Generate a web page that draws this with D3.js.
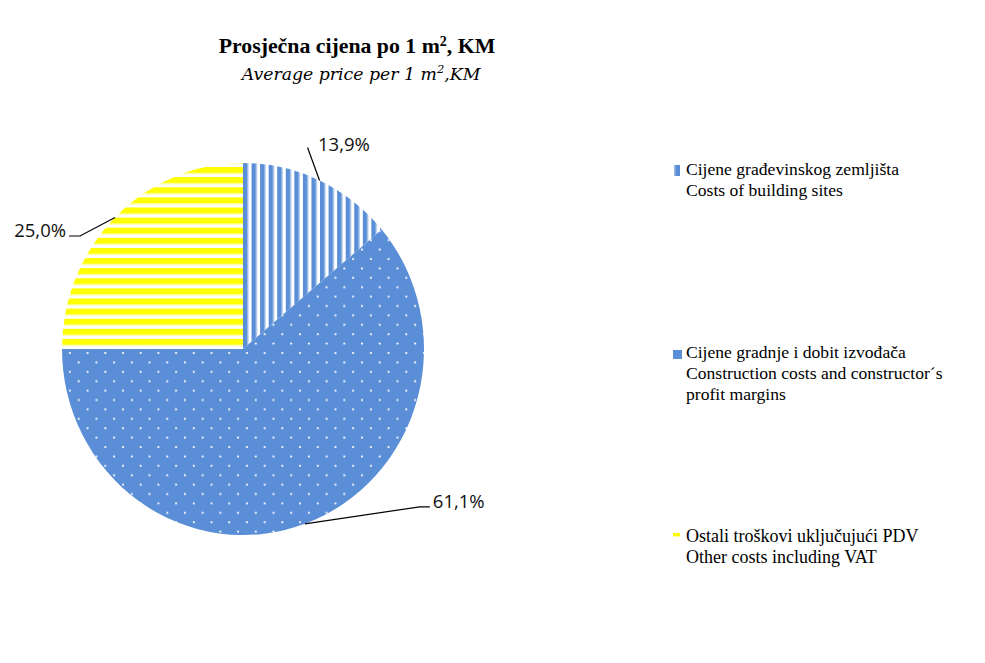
<!DOCTYPE html>
<html>
<head>
<meta charset="utf-8">
<script src="https://cdn.jsdelivr.net/npm/d3@7"></script>
<style>
  body { margin: 0; background: #fff; }
  svg { display: block; }
</style>
</head>
<body>
<svg width="985" height="663"></svg>
<script>
// data
var shares = [13.9, 61.1, 25.0];
var shareLabels = ['13,9%', '61,1%', '25,0%'];
var legendLines = [
  ['Cijene građevinskog zemljišta', 'Costs of building sites'],
  ['Cijene gradnje i dobit izvođača', 'Construction costs and constructor´s', 'profit margins'],
  ['Ostali troškovi uključujući PDV', 'Other costs including VAT']
];
var fills = ['url(#stripesV)', 'url(#dots)', 'url(#stripesH)'];

var svg = d3.select('svg');
var blue = '#5a8ed6';

var defs = svg.append('defs');

// vertical stripes (slice 1)
var pv = defs.append('pattern')
  .attr('id', 'stripesV')
  .attr('patternUnits', 'userSpaceOnUse')
  .attr('x', 0).attr('y', 0)
  .attr('width', 8.7).attr('height', 10);
pv.append('rect').attr('width', 8.7).attr('height', 10).attr('fill', '#fff');
pv.append('rect').attr('width', 4.6).attr('height', 10).attr('fill', blue);
pv.append('rect').attr('x', 4.6).attr('width', 1).attr('height', 10).attr('fill', '#a9c5ec');

// dots (slice 2)
var pd = defs.append('pattern')
  .attr('id', 'dots')
  .attr('patternUnits', 'userSpaceOnUse')
  .attr('width', 18).attr('height', 18.6);
pd.append('rect').attr('width', 18).attr('height', 18.6).attr('fill', blue);
pd.append('circle').attr('cx', 4).attr('cy', 4).attr('r', 1.1).attr('fill', '#fff');
pd.append('circle').attr('cx', 13).attr('cy', 13.3).attr('r', 1.1).attr('fill', '#fff');

// horizontal stripes (slice 3)
var ph = defs.append('pattern')
  .attr('id', 'stripesH')
  .attr('patternUnits', 'userSpaceOnUse')
  .attr('width', 10).attr('height', 10);
ph.append('rect').attr('width', 10).attr('height', 10).attr('fill', '#fff');
ph.append('rect').attr('y', 0).attr('width', 10).attr('height', 6).attr('fill', '#ffff00');
ph.append('rect').attr('y', 6).attr('width', 10).attr('height', 1).attr('fill', '#ffff9a');

// title
var title = svg.append('text')
  .attr('x', 357).attr('y', 53)
  .attr('text-anchor', 'middle')
  .style('font-family', 'Liberation Serif')
  .style('font-weight', 'bold')
  .style('font-size', '21.8px')
  .style('fill', '#000');
title.append('tspan').text('Prosječna cijena po 1 m');
title.append('tspan').attr('dy', -7).style('font-size', '14px').text('2');
title.append('tspan').attr('dy', 7).text(', KM');

var sub = svg.append('text')
  .attr('x', 361).attr('y', 80)
  .attr('text-anchor', 'middle')
  .style('font-family', 'DejaVu Serif')
  .style('font-style', 'italic')
  .style('font-size', '17.3px')
  .style('fill', '#000');
sub.append('tspan').text('Average price per 1 m');
sub.append('tspan').attr('dy', -7).style('font-size', '11.5px').text('2');
sub.append('tspan').attr('dy', 7).text(',KM');

// pie (slightly taller than wide, as in the source)
var cx = 243, cy = 349, rx = 181, ry = 186, r = 184;
var pie = d3.pie().sort(null).value(function(d) { return d; });
var arcs = pie(shares);
var arc = d3.arc().innerRadius(0).outerRadius(r);

var g = svg.append('g')
  .attr('transform', 'translate(' + cx + ',' + cy + ') scale(' + rx / r + ',' + ry / r + ')');
g.selectAll('path')
  .data(arcs)
  .enter()
  .append('path')
  .attr('d', arc)
  .attr('fill', function(d, i) { return fills[i]; });

// leader lines + labels: start at outer edge at mid angle
var labelOffsets = [
  { bend: [-12, -33], end: null, anchor: 'start', dx: 10.5, dy: 4 },
  { bend: [115, -17], end: [10, 0], anchor: 'start', dx: 3, dy: 1 },
  { bend: [-35, 18.5], end: [-11, 0], anchor: 'end', dx: -3, dy: 1 }
];

var gl = svg.append('g').attr('transform', 'translate(' + cx + ',' + cy + ')');
arcs.forEach(function(d, i) {
  var a = (d.startAngle + d.endAngle) / 2;
  var p0 = [Math.sin(a) * rx, -Math.cos(a) * ry];
  var o = labelOffsets[i];
  var p1 = [p0[0] + o.bend[0], p0[1] + o.bend[1]];
  var pts = [p0, p1];
  var last = p1;
  if (o.end) {
    last = [p1[0] + o.end[0], p1[1] + o.end[1]];
    pts.push(last);
  }
  gl.append('path')
    .attr('d', d3.line()(pts))
    .attr('fill', 'none')
    .attr('stroke', '#000')
    .attr('stroke-width', 1.2);
  gl.append('text')
    .attr('x', last[0] + o.dx)
    .attr('y', last[1] + o.dy)
    .attr('text-anchor', o.anchor)
    .style('font-family', 'Open Sans')
    .style('font-size', '18.5px')
    .style('fill', '#111')
    .text(shareLabels[i]);
});

// legend
var legendY = [175, 358, 542];
var legendSize = [17.6, 17.6, 18];
var markers = [
  { x: 674, y: -10, w: 6, h: 11, fill: '#5a8ed6' },
  { x: 673, y: -8, w: 9, h: 9, fill: 'url(#dots)' },
  { x: 673, y: -9, w: 7, h: 6, fill: 'url(#stripesH)' }
];
var legend = svg.append('g');
legendLines.forEach(function(lines, i) {
  var m = markers[i];
  legend.append('rect')
    .attr('x', m.x).attr('y', legendY[i] + m.y)
    .attr('width', m.w).attr('height', m.h)
    .attr('fill', m.fill);
  if (i === 0) {
    legend.append('rect')
      .attr('x', m.x).attr('y', legendY[i] + m.y)
      .attr('width', 1.5).attr('height', m.h)
      .attr('fill', '#9dbce8');
  }
  var t = legend.append('text')
    .attr('x', 686).attr('y', legendY[i])
    .style('font-family', 'Liberation Serif')
    .style('font-size', legendSize[i] + 'px')
    .style('fill', '#000');
  lines.forEach(function(s, j) {
    t.append('tspan')
      .attr('x', 686)
      .attr('dy', j === 0 ? 0 : 21)
      .text(s);
  });
});
</script>
</body>
</html>
